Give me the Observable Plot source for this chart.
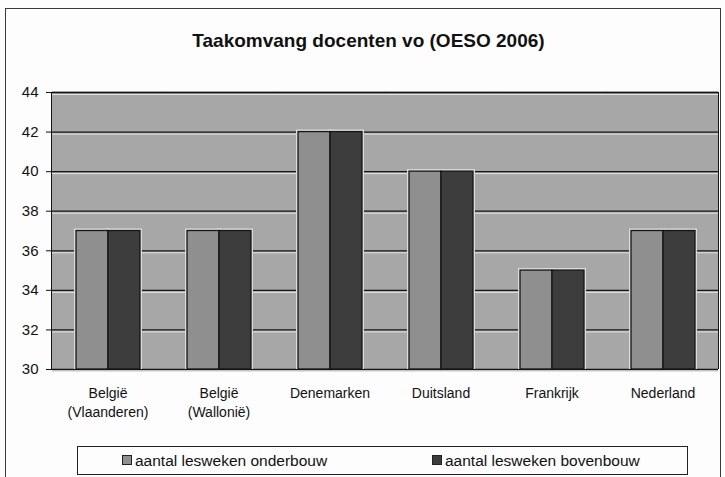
<!DOCTYPE html>
<html><head><meta charset="utf-8">
<script src="https://cdn.jsdelivr.net/npm/d3@7"></script>
<script src="https://cdn.jsdelivr.net/npm/@observablehq/plot@0.6"></script>
<style>
body{margin:0;background:#fff;font-family:"Liberation Sans",Arial,sans-serif}
#wrap{position:relative;width:725px;height:477px;overflow:hidden;background:#fdfdfd}
#border{position:absolute;left:5px;top:8px;width:716px;height:475px;border:1.5px solid #3a3a3a;box-sizing:border-box}
#title{position:absolute;top:31px;left:0;width:737px;text-align:center;font-weight:bold;font-size:19px;color:#111;line-height:1}
#chart{position:absolute;left:0;top:0}
#plotedge{position:absolute;box-sizing:border-box;border-left:1.3px solid #151515;border-right:1.3px solid #151515;pointer-events:none}
#legend{position:absolute;left:77px;top:446px;width:611px;height:29px;border:1.5px solid #222;box-sizing:border-box;background:#fdfdfd}
.item{position:absolute;top:6px;font-size:15.5px;color:#111;white-space:nowrap;line-height:16px}
.sw{display:inline-block;width:8px;height:8px;border:1px solid #222;margin-right:3px;vertical-align:1px}
</style></head>
<body>
<div id="wrap">
  <div id="border"></div>
  <div id="title">Taakomvang docenten vo (OESO 2006)</div>
  <div id="chart"></div>
  <div id="plotedge"></div>
  <div id="legend"></div>
</div>
<script>
const countries = ["België\n(Vlaanderen)", "België\n(Wallonië)", "Denemarken", "Duitsland", "Frankrijk", "Nederland"];
const series = ["aantal lesweken onderbouw", "aantal lesweken bovenbouw"];
const onderbouw = [37, 37, 42, 40, 35, 37];
const bovenbouw = [37, 37, 42, 40, 35, 37];
const yTicks = [30, 32, 34, 36, 38, 40, 42, 44];
const colors = ["#8f8f8f", "#3d3d3d"];

const data = countries.flatMap((c, i) => [
  {country: c, series: series[0], value: onderbouw[i]},
  {country: c, series: series[1], value: bovenbouw[i]}
]);

const W = 725, H = 430, mL = 51, mR = 6, mT = 92, mB = 61;
const outerPad = 0.7;
const yMin = yTicks[0], yMax = yTicks[yTicks.length - 1];
const lineStyle = {stroke: "#151515", strokeWidth: 1.3};

const chart = Plot.plot({
  width: W, height: H,
  marginTop: mT, marginBottom: mB, marginLeft: mL, marginRight: mR,
  style: {background: "transparent", fontFamily: '"Liberation Sans", Arial, sans-serif', fontSize: "14px", color: "#111", overflow: "visible"},
  fx: {domain: countries, padding: 0, label: null, axis: null},
  x: {domain: series, paddingInner: 0, paddingOuter: outerPad, axis: null},
  y: {domain: [yMin, yMax], label: null},
  color: {domain: series, range: colors},
  marks: [
    Plot.ruleY([yMin], {y1: yMin, y2: yMax, stroke: null}),
    Plot.rectY(countries, {fx: d => d, y1: yMin, y2: yMax, fill: "#a7a7a7", stroke: "#a7a7a7", strokeWidth: 1}),
    Plot.ruleY(yTicks, {stroke: "#e2e2e2", dy: 2}),
    Plot.ruleY(yTicks, lineStyle),
    Plot.barY(data, {fx: "country", x: "series", y1: yMin, y2: "value", stroke: "#dcdcdc", strokeWidth: 4, clip: true}),
    Plot.barY(data, {fx: "country", x: "series", y1: yMin, y2: "value", fill: "series", ...lineStyle}),
    Plot.axisY({ticks: yTicks, tickSize: 6, tickPadding: 8, fontSize: 15, label: null, stroke: "#111"}),
    Plot.text(countries, {fx: d => d, text: d => d, frameAnchor: "bottom", lineAnchor: "top", lineHeight: 1.3, dy: 16, fontSize: 14, fill: "#111"})
  ]
});
document.getElementById("chart").appendChild(chart);

// vertical edges of the plot area, from the y scale's pixel range
const yr = chart.scale("y").range;
const edge = document.getElementById("plotedge");
edge.style.left = mL + "px";
edge.style.width = (W - mL - mR) + "px";
edge.style.top = Math.min(...yr) + "px";
edge.style.height = Math.abs(yr[0] - yr[1]) + "px";

const legend = document.getElementById("legend");
const lx = [44, 354];
series.forEach((s, i) => {
  const it = document.createElement("div");
  it.className = "item";
  it.style.left = lx[i] + "px";
  it.innerHTML = `<span class="sw" style="background:${colors[i]}"></span>${s}`;
  legend.appendChild(it);
});
</script>
</body></html>
